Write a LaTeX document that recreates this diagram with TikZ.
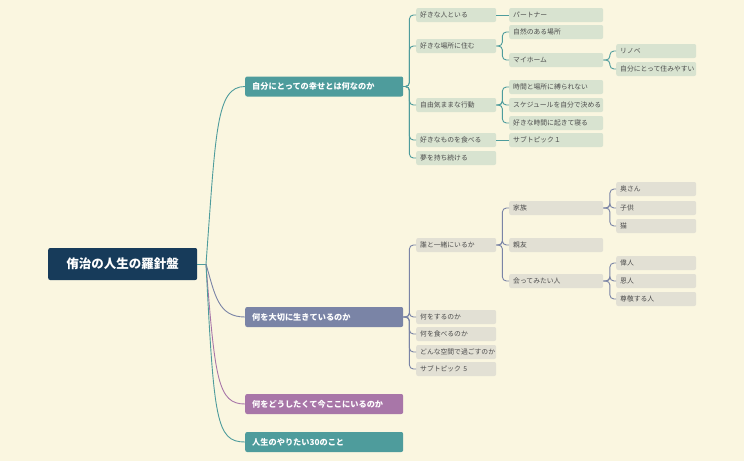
\documentclass[tikz,border=0pt]{standalone}
\usepackage{fontspec}
\setmainfont{Noto Sans CJK JP}
\begin{document}
\begin{tikzpicture}[x=1pt,y=-1pt,
  base/.style={anchor=west,rounded corners=2pt,inner xsep=4pt,inner ysep=0pt,minimum height=14pt,align=left,font=\fontsize{6.8}{7.5}\selectfont,text=black!70},
  ga/.style={base,text width=72pt},
  gb/.style={base,text width=86pt},
  pa/.style={base,text width=72pt},
  pb/.style={base,text width=86pt},
  main/.style={anchor=west,rounded corners=2pt,minimum width=158pt,minimum height=20pt,inner xsep=7pt,text width=144pt,align=left,text=white,font=\fontsize{8.2}{9}\selectfont\bfseries},
  tl/.style={line width=0.9pt,rounded corners=4pt},
  sl/.style={line width=0.9pt,rounded corners=4pt},
  pl/.style={line width=0.9pt}]
\definecolor{bg}{HTML}{FAF6E0}
\definecolor{tealc}{HTML}{4E9C9C}
\definecolor{slate}{HTML}{7A84A6}
\definecolor{purp}{HTML}{A876A8}
\definecolor{navy}{HTML}{173B5A}
\definecolor{gfill}{HTML}{D8E3D0}
\definecolor{pfill}{HTML}{E2E0D4}
\tikzset{ga/.append style={fill=gfill},gb/.append style={fill=gfill},pa/.append style={fill=pfill},pb/.append style={fill=pfill},
 tl/.append style={draw=tealc},sl/.append style={draw=slate},pl/.append style={draw=purp}}
\fill[bg] (0,0) rectangle (744,461);
\useasboundingbox (0,0) rectangle (744,461);
\node[anchor=west,fill=navy,rounded corners=2pt,minimum width=149pt,minimum height=32pt,text=white,font=\fontsize{12.5}{14}\selectfont\bfseries] (root) at (48,264) {侑治の人生の羅針盤};
\node[main,fill=tealc] (b1) at (245,86.5) {自分にとっての幸せとは何なのか};
\node[main,fill=slate] (b2) at (245,317) {何を大切に生きているのか};
\node[main,fill=purp] (b3) at (245,404) {何をどうしたくて今ここにいるのか};
\node[main,fill=tealc] (b4) at (245,442) {人生のやりたい30のこと};
% level 2 teal
\node[ga] (a1) at (416,15) {好きな人といる};
\node[ga] (a2) at (416,46) {好きな場所に住む};
\node[ga] (a3) at (416,105) {自由気ままな行動};
\node[ga] (a4) at (416,140) {好きなものを食べる};
\node[ga] (a5) at (416,158) {夢を持ち続ける};
\node[gb] (a11) at (509,15) {パートナー};
\node[gb] (a21) at (509,32) {自然のある場所};
\node[gb] (a22) at (509,60) {マイホーム};
\node[gb] (a31) at (509,87) {時間と場所に縛られない};
\node[gb] (a32) at (509,105) {スケジュールを自分で決める};
\node[gb] (a33) at (509,123) {好きな時間に起きて寝る};
\node[gb] (a41) at (509,140) {サブトピック１};
\node[ga] (a221) at (616,51) {リノベ};
\node[ga] (a222) at (616,69) {自分にとって住みやすい};
% level 2 slate
\node[pa] (c1) at (416,245) {誰と一緒にいるか};
\node[pa] (c2) at (416,317) {何をするのか};
\node[pa] (c3) at (416,334) {何を食べるのか};
\node[pa] (c4) at (416,352) {どんな空間で過ごすのか};
\node[pa] (c5) at (416,369) {サブトピック 5};
\node[pb] (c11) at (509,208) {家族};
\node[pb] (c12) at (509,245) {親友};
\node[pb] (c13) at (509,281) {会ってみたい人};
\node[pa] (c111) at (616,189) {奥さん};
\node[pa] (c112) at (616,208) {子供};
\node[pa] (c113) at (616,226) {猫};
\node[pa] (c131) at (616,263) {偉人};
\node[pa] (c132) at (616,281) {恩人};
\node[pa] (c133) at (616,299) {尊敬する人};
% root connectors
\coordinate (r0) at (206,264);
\draw[tl] (root.east) -- (r0);
\draw[tl,rounded corners=0pt] (r0) .. controls (216,130) and (216,86.5) .. (b1.west);
\draw[sl,rounded corners=0pt] (r0) .. controls (215,295) and (218,317) .. (b2.west);
\draw[pl] (r0) .. controls (215,380) and (218,404) .. (b3.west);
\draw[tl,rounded corners=0pt] (r0) .. controls (214,420) and (216,442) .. (b4.west);
% tree connectors
\foreach \c in {a1,a2,a3,a4,a5} \draw[tl] (b1.east) -- ++(6,0) |- (\c.west);
\draw[tl] (a1.east) -- (a11.west);
\foreach \c in {a21,a22} \draw[tl] (a2.east) -- ++(6,0) |- (\c.west);
\foreach \c in {a31,a32,a33} \draw[tl] (a3.east) -- ++(6,0) |- (\c.west);
\draw[tl] (a4.east) -- (a41.west);
\foreach \c in {a221,a222} \draw[tl] (a22.east) -- ++(6.5,0) |- (\c.west);
\foreach \c in {c1,c2,c3,c4,c5} \draw[sl] (b2.east) -- ++(6,0) |- (\c.west);
\foreach \c in {c11,c12,c13} \draw[sl] (c1.east) -- ++(6,0) |- (\c.west);
\foreach \c in {c111,c112,c113} \draw[sl] (c11.east) -- ++(6.5,0) |- (\c.west);
\foreach \c in {c131,c132,c133} \draw[sl] (c13.east) -- ++(6.5,0) |- (\c.west);
\end{tikzpicture}
\end{document}
